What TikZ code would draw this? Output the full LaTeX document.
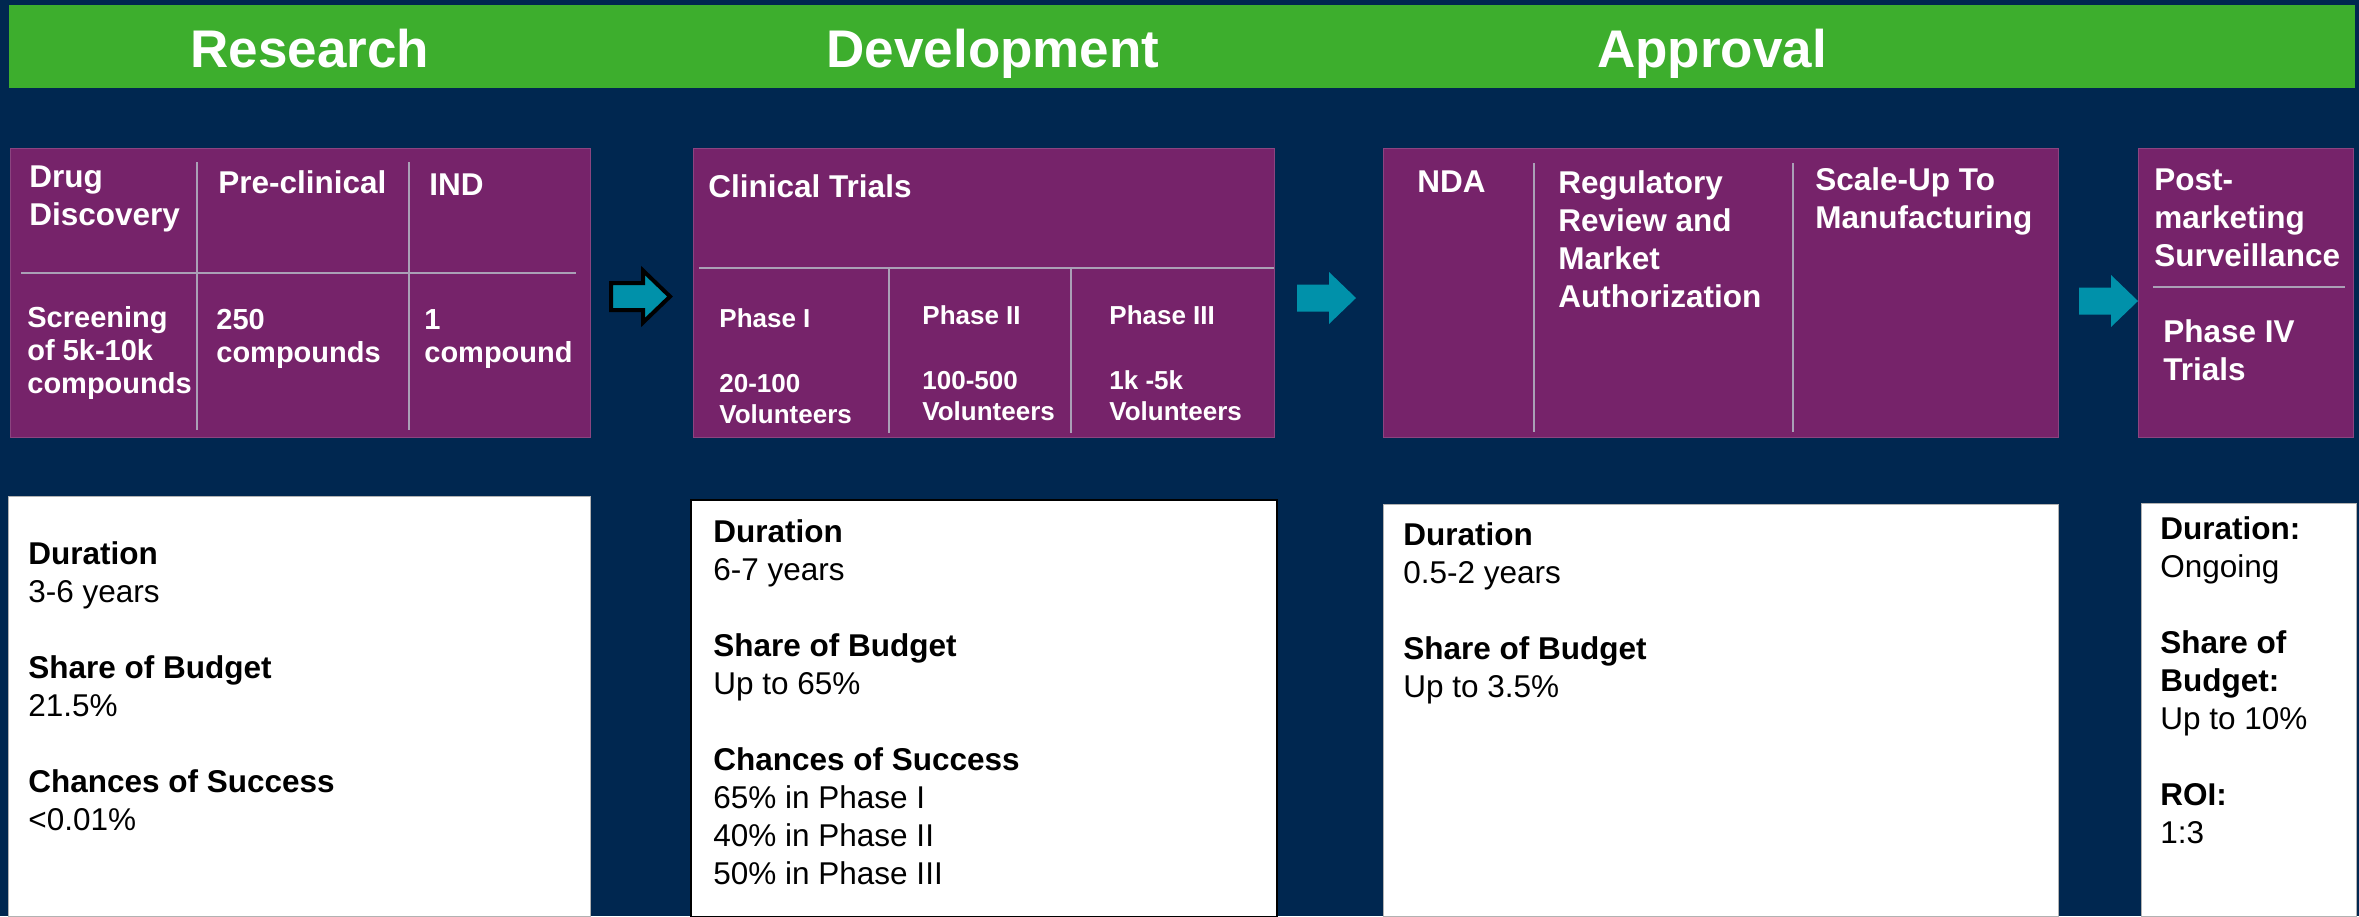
\documentclass[tikz,border=0pt]{standalone}
\usepackage{fontspec}
\setmainfont{Liberation Sans}
\definecolor{cNavy}{RGB}{0,39,80}
\definecolor{cGreen}{RGB}{61,174,45}
\definecolor{cPurple}{RGB}{118,35,106}
\definecolor{cTeal}{RGB}{0,145,170}
\definecolor{cDivider}{RGB}{170,160,182}
\tikzstyle{sBar} = [rectangle, anchor=north west, fill=cGreen, inner sep=0pt]
\tikzstyle{sHeader} = [anchor=base, inner sep=0pt, text=white, font=\fontsize{26.5pt}{30pt}\selectfont\bfseries]
\tikzstyle{sStage} = [rectangle, anchor=north west, fill=cPurple, draw=cPurple!85!white, line width=0.5pt, inner sep=0pt]
\tikzstyle{sInfo} = [rectangle, anchor=north west, fill=white, draw=gray!60, line width=0.5pt, inner sep=0pt]
\tikzstyle{sLabel} = [anchor=base west, align=left, inner sep=0pt, text=white, font=\fontsize{15.75pt}{19pt}\selectfont\bfseries]
\tikzstyle{sCount} = [sLabel, font=\fontsize{14.5pt}{16.5pt}\selectfont\bfseries]
\tikzstyle{sPhase} = [sLabel, font=\fontsize{13pt}{15.5pt}\selectfont\bfseries]
\tikzstyle{sFacts} = [anchor=base west, align=left, inner sep=0pt, text=black, font=\fontsize{15.75pt}{19pt}\selectfont]
\tikzstyle{sDivider} = [draw=cDivider, line width=1pt]
\tikzstyle{sArrow} = [fill=cTeal]
\tikzstyle{sArrowOutlined} = [fill=cTeal, draw=black, line width=2pt]
\tikzset{pics/stagearrow/.style={code={
  \path[pic actions] (0,-13.5) -- (32,-13.5) -- (32,-26) -- (59,0) -- (32,26) -- (32,13.5) -- (0,13.5) -- cycle;}}}
\begin{document}
\begin{tikzpicture}[x=0.5pt, y=-0.5pt]
    \useasboundingbox (0,0) rectangle (2359,916);
    \fill [cNavy] (0,0) rectangle (2359,916);

    % top bar with the three stages
    \node (stagebar) [sBar, minimum width=1173pt, minimum height=41.5pt] at (9,5) {};
    \node (research) [sHeader] at (310,67) {Research};
    \node (development) [sHeader] at (993,67) {Development};
    \node (approval) [sHeader] at (1712,67) {Approval};

    % purple step boxes
    \node (researchbox) [sStage, minimum width=290pt, minimum height=144.5pt] at (10,148) {};
    \node (trialsbox) [sStage, minimum width=290.5pt, minimum height=144.5pt] at (693,148) {};
    \node (approvalbox) [sStage, minimum width=337.5pt, minimum height=144.5pt] at (1383,148) {};
    \node (postbox) [sStage, minimum width=107.5pt, minimum height=144.5pt] at (2138,148) {};

    \draw [sDivider] (197,162) -- (197,430);
    \draw [sDivider] (409,162) -- (409,430);
    \draw [sDivider] (21,273) -- (576,273);
    \draw [sDivider] (699,268) -- (1274,268);
    \draw [sDivider] (889,268) -- (889,433);
    \draw [sDivider] (1071,268) -- (1071,433);
    \draw [sDivider] (1534,163) -- (1534,432);
    \draw [sDivider] (1793,163) -- (1793,432);
    \draw [sDivider] (2153,287) -- (2345,287);

    % multi-line texts sit on the baseline of their last line
    \node (drugdiscovery) [sLabel] at (29,225) {Drug\\Discovery};
    \node (preclinical) [sLabel] at (218,193) {Pre-clinical};
    \node (ind) [sLabel] at (429,195) {IND};
    \node (screening) [sCount] at (27,393) {Screening\\of 5k-10k\\compounds};
    \node (twofifty) [sCount] at (216,362) {250\\compounds};
    \node (onecompound) [sCount] at (424,362) {1\\compound};

    \node (clinicaltrials) [sLabel] at (708,197) {Clinical Trials};
    \node (phaseone) [sPhase] at (719,423) {Phase I\\[17pt]20-100\\Volunteers};
    \node (phasetwo) [sPhase] at (922,420) {Phase II\\[17pt]100-500\\Volunteers};
    \node (phasethree) [sPhase] at (1109,420) {Phase III\\[17pt]1k -5k\\Volunteers};

    \node (nda) [sLabel] at (1417,192) {NDA};
    \node (regulatory) [sLabel] at (1558,307) {Regulatory\\Review and\\Market\\Authorization};
    \node (scaleup) [sLabel] at (1815,228) {Scale-Up To\\Manufacturing};

    \node (postmarketing) [sLabel] at (2154,266) {Post-\\marketing\\Surveillance};
    \node (phasefour) [sLabel] at (2163,380) {Phase IV\\Trials};

    % arrows between the boxes
    \pic [sArrowOutlined] at (611,296.5) {stagearrow};
    \pic [sArrow] at (1297,298) {stagearrow};
    \pic [sArrow] at (2079,301) {stagearrow};

    % white fact boxes
    \node (researchfacts) [sInfo, minimum width=291pt, minimum height=210pt] at (8,496) {};
    \node (trialsfacts) [sInfo, draw=black, line width=1pt, minimum width=293pt, minimum height=208.5pt] at (690,499) {};
    \node (approvalfacts) [sInfo, minimum width=337.5pt, minimum height=206pt] at (1383,504) {};
    \node (postfacts) [sInfo, minimum width=107.5pt, minimum height=206.5pt] at (2141,503) {};

    \node (researchtext) [sFacts] at (28,830) {\textbf{Duration}\\3-6 years\\[19pt]\textbf{Share of Budget}\\21.5\%\\[19pt]\textbf{Chances of Success}\\<0.01\%};
    \node (trialstext) [sFacts] at (713,884) {\textbf{Duration}\\6-7 years\\[19pt]\textbf{Share of Budget}\\Up to 65\%\\[19pt]\textbf{Chances of Success}\\65\% in Phase I\\40\% in Phase II\\50\% in Phase III};
    \node (approvaltext) [sFacts] at (1403,697) {\textbf{Duration}\\0.5-2 years\\[19pt]\textbf{Share of Budget}\\Up to 3.5\%};
    \node (posttext) [sFacts] at (2160,843) {\textbf{Duration:}\\Ongoing\\[19pt]\textbf{Share of}\\\textbf{Budget:}\\Up to 10\%\\[19pt]\textbf{ROI:}\\1:3};
\end{tikzpicture}
\end{document}
